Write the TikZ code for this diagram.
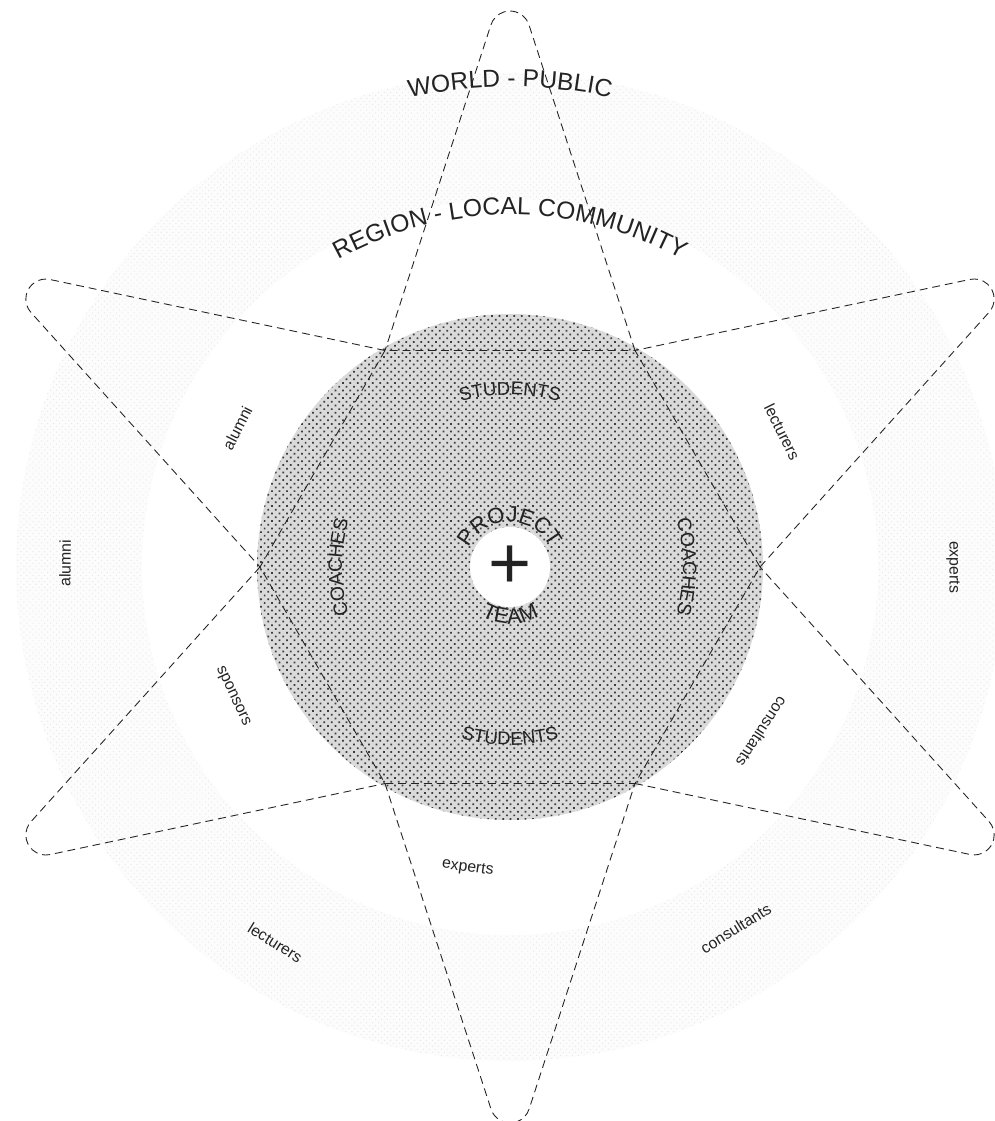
\documentclass[tikz,border=0pt]{standalone}
\usepackage{fontspec}
\setmainfont{Liberation Sans}
\definecolor{inkgray}{RGB}{35,35,35}
\definecolor{dotdark}{RGB}{60,60,60}
\definecolor{dotbase}{RGB}{218,218,218}
\definecolor{dotlight}{RGB}{232,232,232}
\definecolor{ringbase}{RGB}{252,252,252}
\usetikzlibrary{decorations.text,patterns.meta}

\begin{document}
\begin{tikzpicture}[x=0.02cm,y=0.02cm,
      world/.style={preaction={fill=ringbase},
                    pattern={Dots[distance=2.4pt,radius=0.4pt,angle=45]},
                    pattern color=dotlight},
      team/.style={preaction={fill=dotbase},
                   pattern={Dots[distance=3pt,radius=0.7pt,angle=45]},
                   pattern color=dotdark},
      link/.style={draw=inkgray,line width=0.5pt,dash pattern=on 4.5pt off 2.8pt},
      lbl/.style={font=\fontsize{9}{9}\selectfont,text=inkgray,inner sep=0pt}]
      \useasboundingbox (-510,-554) rectangle (484,567);
      % rings
      \path[world] (0,0) circle[radius=494];
      \fill[white] (0,0) circle[radius=368];
      \path[team] (0,0) circle[radius=253];
      \fill[white] (0,0) circle[radius=40];
      % star
      \foreach \i in {0,...,5} {
        \coordinate (v\i) at (60*\i:250);
      }
      \draw[link] (v0) -- (v1) -- (v2) -- (v3) -- (v4) -- (v5) -- cycle;
      \foreach \i [evaluate=\i as \j using {int(mod(\i+1,6))}] in {0,...,5} {
        \draw[link,rotate=60*\i-60] (v\i) -- (19,542)
          arc[start angle=17.6,end angle=162.4,radius=20] -- (v\j);
      }
      % curved titles
      \path[decorate,decoration={text along path,text align=center,
        text={|\fontsize{14}{14}\selectfont\color{inkgray}|WORLD - PUBLIC}}]
        (150:480) arc[start angle=150,end angle=30,radius=480];
      \path[decorate,decoration={text along path,text align=center,
        text={|\fontsize{14}{14}\selectfont\color{inkgray}|REGION - LOCAL COMMUNITY}}]
        (150:352) arc[start angle=150,end angle=30,radius=352];
      \path[decorate,decoration={text along path,text align=center,
        text={|\fontsize{10.5}{10.5}\selectfont\color{inkgray}|STUDENTS}}]
        (135:172) arc[start angle=135,end angle=45,radius=172];
      \path[decorate,decoration={text along path,text align=center,
        text={|\fontsize{10.5}{10.5}\selectfont\color{inkgray}|STUDENTS}}]
        (225:178) arc[start angle=225,end angle=315,radius=178];
      \path[decorate,decoration={text along path,text align=center,
        text={|\fontsize{11}{11}\selectfont\color{inkgray}|COACHES}}]
        (225:168) arc[start angle=225,end angle=135,radius=168];
      \path[decorate,decoration={text along path,text align=center,
        text={|\fontsize{11}{11}\selectfont\color{inkgray}|COACHES}}]
        (45:173) arc[start angle=45,end angle=-45,radius=173];
      \path[decorate,decoration={text along path,text align=center,
        text={|\fontsize{12.5}{12.5}\selectfont\color{inkgray}|PROJECT}}]
        (180:45) arc[start angle=180,end angle=0,radius=45];
      \path[decorate,decoration={text along path,text align=center,
        text={|\fontsize{12.5}{12.5}\selectfont\color{inkgray}|TEAM}}]
        (180:57) arc[start angle=180,end angle=360,radius=57];
      \node[font=\fontsize{42}{42}\selectfont,text=inkgray,inner sep=0pt] (plus) at (0,0) {+};
      % member labels
      \foreach \n/\t/\a/\r/\o in {alumA/alumni/153/306/63, lectA/lecturers/26.4/304/-63.6,
          sponA/sponsors/205/306/-65, consA/consultants/-33.2/301/-123.2,
          expA/experts/262/304/-8, alumB/alumni/179.5/445/89.5,
          expB/experts/0/443/-90, lectB/lecturers/238/443/-32,
          consB/consultants/302/426/32} {
        \node[lbl,rotate=\o] (\n) at (\a:\r) {\t};
      }
    \end{tikzpicture}
\end{document}
